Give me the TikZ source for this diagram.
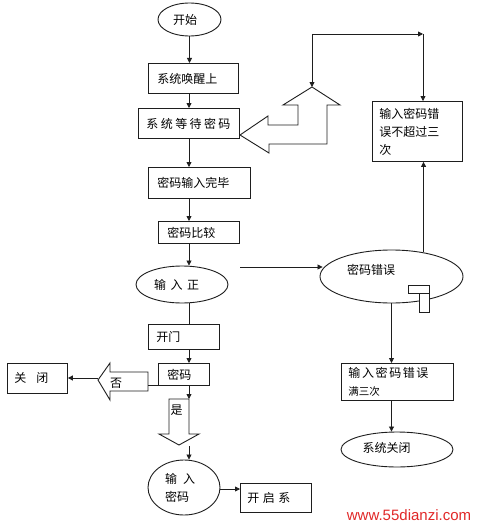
\documentclass[tikz,border=0pt]{standalone}
\usepackage{fontspec}
\newfontfamily\cjk{Noto Sans CJK SC}
\newfontfamily\wmfont{Liberation Sans}
\usetikzlibrary{shapes.geometric,arrows.meta}
\definecolor{wmred}{RGB}{225,40,40}
\definecolor{ink}{RGB}{30,30,30}
\newcommand\cjkf{\cjk\fontsize{12}{14}\selectfont}
\begin{document}
\begin{tikzpicture}[x=1pt,y=-1pt,
  line/.style={draw=ink, line width=0.8pt},
  arr/.style={line, -{Triangle[length=5pt,width=5pt]}},
  box/.style={draw=ink, line width=0.9pt, rectangle, anchor=north west, inner ysep=0pt, align=left, font=\cjkf},
  oval/.style={draw=ink, line width=0.9pt, ellipse, inner sep=0pt},
  lbl/.style={font=\cjkf, inner sep=0pt},
  hollow/.style={draw=ink, line width=0.9pt, fill=white, line join=miter},
]
\useasboundingbox (0,0) rectangle (478,527);
\fill[white] (0,0) rectangle (478,527);

% boxes
\node[box, minimum width=90pt, minimum height=30pt, inner xsep=9pt, text width=72pt] (A) at (148,63) {系统唤醒上};
\node[box, minimum width=101pt, minimum height=30pt, inner xsep=8pt, text width=85pt] (B) at (138,108) {\mbox{系\hspace{2.4pt}统\hspace{2.4pt}等\hspace{2.4pt}待\hspace{2.4pt}密\hspace{2.4pt}码}};
\node[box, minimum width=102pt, minimum height=31pt, inner xsep=9pt, text width=84pt] (C) at (148,167) {密码输入完毕};
\node[box, minimum width=81pt, minimum height=22pt, inner xsep=9pt, text width=63pt] (D) at (158,221) {密码比较};
\node[box, minimum width=71pt, minimum height=25pt, inner xsep=8pt, text width=55pt] (E) at (148,324) {开门};
\node[box, minimum width=51pt, minimum height=22pt, inner xsep=9pt, text width=33pt] (F) at (158,363) {密码};
\node[box, minimum width=60pt, minimum height=30pt, inner xsep=7pt, text width=46pt] (G) at (7,363) {\mbox{关\hspace{10pt}闭}};
\node[box, minimum width=71pt, minimum height=29pt, inner xsep=7pt, text width=57pt] (H) at (240,483) {\mbox{开\hspace{3.5pt}启\hspace{3.5pt}系}};
\node[box, minimum width=90pt, minimum height=60pt, inner xsep=7pt, text width=76pt, font=\cjk\fontsize{12}{18}\selectfont] (I) at (372,101) {输入密码错\\误不超过三\\次};
\node[box, minimum width=112pt, minimum height=37pt, inner xsep=7pt, text width=98pt, font=\cjk\fontsize{12}{18}\selectfont] (J) at (341,363) {\mbox{输\hspace{1.6pt}入\hspace{1.6pt}密\hspace{1.6pt}码\hspace{1.6pt}错\hspace{1.6pt}误}\\{\fontsize{10.5}{18}\selectfont 满三次}};

% ellipses
\node[oval, minimum width=63pt, minimum height=33pt] (start) at (189.5,19.5) {};
\node[lbl] (startT) at (185,20) {开始};
\node[oval, minimum width=92pt, minimum height=37pt] (zheng) at (182,284.5) {};
\node[lbl] (zhengT) at (176.5,285) {\mbox{输\hspace{4.5pt}入\hspace{4.5pt}正}};
\node[oval, minimum width=143pt, minimum height=53pt] (err) at (391.5,276.5) {};
\node[lbl] (errT) at (371,270) {密码错误};
\node[oval, minimum width=112pt, minimum height=35pt] (off) at (397,449.5) {};
\node[lbl] (offT) at (386.5,448) {系统关闭};
\node[oval, minimum width=72pt, minimum height=55pt] (mima) at (184,487.5) {};
\node[lbl, anchor=west, align=left, font=\cjk\fontsize{12}{18}\selectfont] (mimaT) at (165,488) {\mbox{输\hspace{6pt}入}\\密码};

% small T mark on the error ellipse
\draw[hollow] (408,285) rectangle (429,293);
\draw[hollow] (419,293) rectangle (429,312);

% bent hollow arrow
\draw[hollow] (240,135) -- (268,116) -- (268,125) -- (298,125) -- (298,105) -- (283,105) -- (312,87)
  -- (340,105) -- (327,105) -- (327,144) -- (269,144) -- (269,153) -- cycle;

% hollow "no" arrow
\draw[hollow] (98,380) -- (110,363) -- (110,372) -- (148,372) -- (148,391) -- (110,391) -- (110,400) -- cycle;
\draw[line] (148,385) -- (F.west |- 0,385);
\node[lbl] (noT) at (116,383) {否};

% hollow "yes" arrow
\draw[hollow] (169,399) -- (189,399) -- (189,434) -- (199,434) -- (179,445) -- (159,434) -- (169,434) -- cycle;
\node[lbl] (yesT) at (176.5,410) {是};

% connectors
\coordinate (ax) at (189,0);
\draw[arr] (start.south) -- (start.south |- A.north);
\draw[arr] (ax |- A.south) -- (ax |- B.north);
\draw[arr] (ax |- B.south) -- (ax |- C.north);
\draw[arr] (ax |- C.south) -- (ax |- D.north);
\draw[arr] (ax |- D.south) -- (ax |- zheng.north);
\draw[line] (ax |- zheng.south) -- (ax |- E.north);
\draw[arr] (ax |- E.south) -- (ax |- F.north);
\coordinate (yesTop) at (189,399);
\draw[arr] (ax |- F.south) -- (yesTop);
\coordinate (yesOut) at (189,446);
\draw[arr] (yesOut) -- (ax |- mima.north);
\draw[arr] ([yshift=-1.5pt]mima.east) -- ([yshift=-1.5pt]mima.east -| H.west);

\coordinate (noTip) at (98,378);
\draw[arr] (noTip) -- (noTip -| G.east);

\coordinate (hs) at (240,267);
\draw[arr] (hs) -- ([xshift=3pt]err.west |- hs);

\draw[arr] (err.37) -- (err.37 |- I.south);
\draw[arr] (err.south) -- (err.south |- J.north);
\draw[arr] (err.south |- J.south) -- (err.south |- off.north);

\coordinate (uptip) at (312,87);
\coordinate (tl) at (312,34);
\coordinate (tr) at (423,34);
\draw[arr] (tl) -- (uptip);
\draw[arr] (tl) -- (tr);
\draw[arr] (tr) -- (tr |- I.north);

% watermark
\node[font=\wmfont\fontsize{15}{15}\selectfont, text=wmred, inner sep=0pt] (wm) at (409,515) {www.55dianzi.com};
\end{tikzpicture}
\end{document}
